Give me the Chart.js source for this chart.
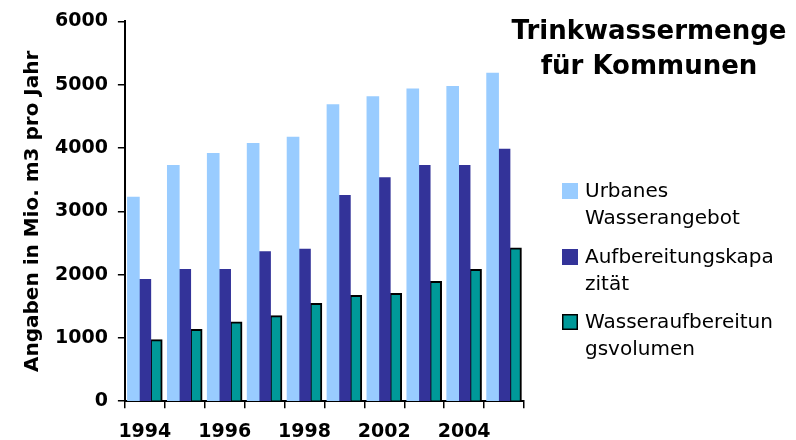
<!DOCTYPE html>
<html>
<head>
<meta charset="utf-8">
<script src="https://cdn.jsdelivr.net/npm/chart.js@4.4.1/dist/chart.umd.min.js"></script>
<style>
  html, body { margin: 0; padding: 0; background: #fff; }
</style>
</head>
<body>
<canvas id="chart" width="796" height="440"></canvas>
<script>
// data
const years = ['1994', '1995', '1996', '1997', '1998', '2000', '2002', '2003', '2004', '2005'];
const urbanesWasserangebot = [3220, 3720, 3910, 4070, 4170, 4680, 4810, 4930, 4970, 5180];
const aufbereitungskapazitaet = [1920, 2080, 2080, 2360, 2400, 3250, 3530, 3720, 3720, 3980];
const wasseraufbereitungsvolumen = [970, 1130, 1250, 1350, 1540, 1670, 1700, 1890, 2080, 2420];

const seriesNames = ['Urbanes Wasserangebot', 'Aufbereitungskapazität', 'Wasseraufbereitungsvolumen'];
// legend text is wrapped mid-word in the original
const legendLines = [['Urbanes', 'Wasserangebot'], ['Aufbereitungskapa', 'zität'], ['Wasseraufbereitun', 'gsvolumen']];
const titleLines = ['Trinkwassermenge', 'für Kommunen'];
const yTitle = 'Angaben in Mio. m3 pro Jahr';

const FONT = "'DejaVu Sans', Verdana, sans-serif";

// title + legend on the right side
const sidePanel = {
    id: 'sidePanel',
    afterDraw(chart) {
        const ctx = chart.ctx;
        ctx.save();
        ctx.fillStyle = '#000';
        ctx.textAlign = 'center';
        ctx.textBaseline = 'alphabetic';
        ctx.font = 'bold 26px ' + FONT;
        titleLines.forEach((line, i) => ctx.fillText(line, 649, 39 + i * 35));

        ctx.textAlign = 'left';
        ctx.textBaseline = 'middle';
        ctx.font = '20px ' + FONT;
        const itemY = [191, 257, 322];
        chart.data.datasets.forEach((ds, i) => {
            const y = itemY[i];
            ctx.fillStyle = ds.backgroundColor;
            ctx.fillRect(562, y - 8, 16, 16);
            if (ds.borderWidth) {
                ctx.lineWidth = 1.5;
                ctx.strokeStyle = ds.borderColor;
                ctx.strokeRect(562.75, y - 7.25, 14.5, 14.5);
            }
            ctx.fillStyle = '#000';
            legendLines[i].forEach((t, j) => ctx.fillText(t, 585, y + 1 + j * 27));
        });
        ctx.restore();
    }
};

const ctx = document.getElementById('chart').getContext('2d');
const chart = new Chart(ctx, {
    type: 'bar',
    data: {
        labels: years,
        datasets: [
            { label: seriesNames[0], data: urbanesWasserangebot, backgroundColor: '#99CCFF', borderWidth: 0, inflateAmount: 0.6 },
            { label: seriesNames[1], data: aufbereitungskapazitaet, backgroundColor: '#333399', borderWidth: 0, inflateAmount: 0.6 },
            { label: seriesNames[2], data: wasseraufbereitungsvolumen, backgroundColor: '#009999', borderColor: '#000', borderWidth: 2, inflateAmount: 0.6 }
        ]
    },
    options: {
        responsive: false,
        animation: false,
        devicePixelRatio: 1,
        layout: { padding: { left: 21, right: 272, top: 19, bottom: -15 } },
        datasets: { bar: { categoryPercentage: 0.86, barPercentage: 1.0 } },
        plugins: {
            legend: { display: false },
            title: { display: false },
            tooltip: { enabled: false }
        },
        scales: {
            x: {
                grid: { display: true, drawOnChartArea: false, offset: true, color: '#000', lineWidth: 1.5, tickLength: 7 },
                border: { color: '#000', width: 2 },
                ticks: {
                    autoSkip: false,
                    maxRotation: 0,
                    color: '#000',
                    font: { family: FONT, size: 19, weight: 'bold' },
                    padding: 12,
                    callback: function (value, index) { return index % 2 === 0 ? this.getLabelForValue(value) : ''; }
                }
            },
            y: {
                min: 0,
                max: 6000,
                ticks: {
                    stepSize: 1000,
                    color: '#000',
                    font: { family: FONT, size: 19, weight: 'bold' },
                    padding: 10,
                    callback: (v) => String(v)
                },
                grid: { drawOnChartArea: false, color: '#000', lineWidth: 1.5, tickLength: 7 },
                border: { color: '#000', width: 2 },
                title: {
                    display: true,
                    text: yTitle,
                    color: '#000',
                    font: { family: FONT, size: 20, weight: 'bold' },
                    padding: { top: 0, bottom: 0 }
                }
            }
        }
    },
    plugins: [sidePanel]
});
</script>
</body>
</html>
